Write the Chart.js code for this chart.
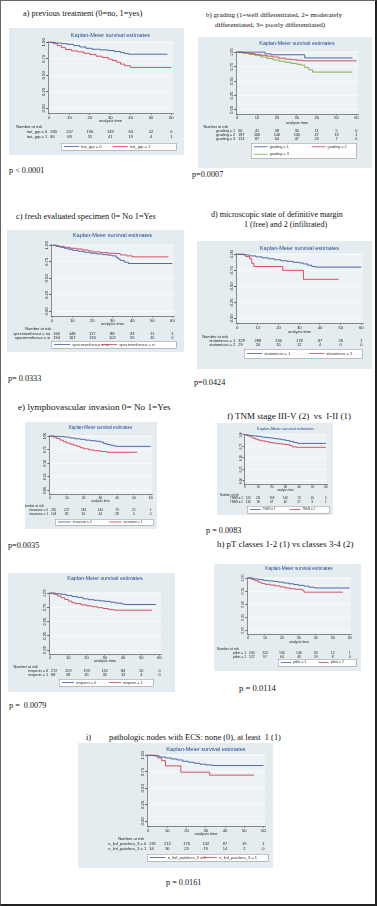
<!DOCTYPE html>
<html>
<head>
<meta charset="utf-8">
<script src="https://cdn.jsdelivr.net/npm/chart.js@4.4.0/dist/chart.umd.min.js"></script>
<style>
html, body { margin: 0; padding: 0; background: #fff; }
#page { position: relative; width: 377px; height: 906px; box-sizing: border-box; border: 1px solid #666; border-right: 2px solid #222; border-bottom: 2px solid #222; overflow: hidden; font-family: "Liberation Serif", "DejaVu Serif", serif; color: #111; }
.cap { position: absolute; white-space: pre; line-height: 10px; }
.box { position: absolute; background: #e4ecf0; }
.box canvas { display: block; }
</style>
</head>
<body>
<div id="page"></div>
<script>
// valori (tempi in mesi, sopravvivenza)
const xTicks = [0, 10, 20, 30, 40, 50, 60];
const yTicks = [0, 0.25, 0.5, 0.75, 1];

// a) trattamento precedente
const aTime0 = [0, 3, 6, 9, 12, 15, 18, 21, 25, 29, 32, 35, 37, 39, 58];
const aSurv0 = [1, .99, .98, .97, .95, .93, .91, .895, .885, .875, .86, .845, .83, .82, .82];
const aTime1 = [0, 2, 4, 6, 8, 11, 14, 17, 20, 23, 26, 29, 31, 33, 35, 37, 40, 60];
const aSurv1 = [1, .98, .95, .92, .89, .87, .855, .835, .815, .79, .77, .745, .725, .70, .67, .645, .62, .62];
const aRisk0 = [280, 247, 196, 149, 63, 22, 0];
const aRisk1 = [80, 68, 55, 41, 19, 4, 1];

// b) grading
const bTime1 = [0, 14, 17, 34, 58];
const bSurv1 = [1, .97, .955, .90, .90];
const bTime2 = [0, 3, 6, 9, 12, 15, 18, 21, 24, 27, 30, 33, 60];
const bSurv2 = [1, .99, .975, .96, .945, .93, .915, .895, .88, .87, .86, .85, .85];
const bTime3 = [0, 3, 6, 9, 12, 15, 18, 21, 24, 27, 30, 32, 34, 36, 38, 58];
const bSurv3 = [1, .98, .96, .94, .915, .89, .865, .845, .825, .805, .79, .775, .735, .695, .655, .655];
const bRisk1 = [60, 41, 38, 30, 11, 5, 0];
const bRisk2 = [187, 166, 140, 100, 47, 13, 1];
const bRisk3 = [113, 87, 60, 47, 26, 7, 0];

// c) pezzo fresco
const cTime0 = [0, 2, 4, 6, 8, 10, 13, 16, 19, 22, 25, 28, 30, 32, 33, 34, 36, 38, 60];
const cSurv0 = [1, .985, .97, .955, .94, .925, .91, .895, .88, .87, .86, .85, .84, .815, .79, .77, .745, .725, .725];
const cTime1 = [0, 3, 6, 9, 12, 15, 18, 20, 24, 28, 31, 34, 37, 40, 58];
const cSurv1 = [1, .985, .97, .955, .945, .93, .915, .90, .89, .88, .875, .855, .84, .825, .825];
const cRisk0 = [166, 148, 117, 88, 43, 11, 1];
const cRisk1 = [194, 167, 133, 102, 59, 15, 0];

// d) margine
const dTime1 = [0, 3, 6, 9, 12, 15, 18, 21, 24, 27, 30, 32, 34, 36, 38, 60];
const dSurv1 = [1, .99, .975, .96, .945, .93, .915, .90, .89, .875, .865, .85, .83, .81, .80, .80];
const dTime2 = [0, 4, 6, 7, 8, 22, 32, 49];
const dSurv2 = [1, .965, .93, .86, .81, .75, .61, .61];
const dRisk1 = [329, 288, 230, 178, 87, 26, 1];
const dRisk2 = [29, 20, 15, 12, 4, 0, 0];

// e) invasione linfovascolare
const eTime0 = [0, 3, 6, 9, 12, 15, 18, 21, 24, 27, 30, 32, 34, 36, 38, 40, 60];
const eSurv0 = [1, .995, .99, .98, .965, .95, .94, .925, .915, .905, .89, .86, .845, .83, .815, .81, .81];
const eTime1 = [0, 2, 4, 6, 8, 10, 12, 14, 16, 18, 20, 23, 26, 30, 34, 52];
const eSurv1 = [1, .98, .955, .925, .895, .87, .85, .83, .81, .785, .765, .745, .73, .715, .70, .70];
const eRisk0 = [255, 227, 181, 144, 73, 21, 1];
const eRisk1 = [104, 82, 61, 44, 28, 5, 0];

// f) TNM
const fTime1 = [0, 3, 6, 9, 12, 15, 18, 21, 24, 27, 30, 33, 36, 39, 60];
const fSurv1 = [1, .99, .98, .97, .955, .945, .935, .92, .91, .895, .88, .86, .835, .815, .815];
const fTime2 = [0, 2, 4, 6, 8, 10, 12, 15, 18, 21, 24, 27, 30, 33, 35, 38, 60];
const fSurv2 = [1, .98, .955, .93, .905, .885, .87, .855, .835, .82, .81, .80, .79, .765, .74, .73, .73];
const fRisk1 = [220, 211, 158, 140, 70, 20, 0];
const fRisk2 = [130, 96, 67, 40, 27, 8, 1];

// g) invasione perineurale
const gTime0 = [0, 3, 6, 9, 12, 15, 18, 21, 24, 27, 30, 33, 36, 39, 41, 58];
const gSurv0 = [1, .99, .98, .96, .94, .925, .90, .885, .875, .865, .855, .84, .825, .81, .80, .80];
const gTime1 = [0, 2, 4, 6, 8, 10, 12, 14, 17, 20, 23, 26, 29, 32, 35, 56];
const gSurv1 = [1, .98, .95, .92, .89, .86, .83, .815, .795, .775, .76, .745, .73, .71, .70, .70];
const gRisk0 = [272, 259, 193, 152, 84, 20, 0];
const gRisk1 = [88, 68, 45, 30, 13, 4, 0];

// h) pT
const hTime1 = [0, 3, 6, 9, 12, 15, 18, 21, 24, 27, 30, 33, 36, 39, 60];
const hSurv1 = [1, .985, .97, .955, .945, .935, .92, .905, .89, .875, .86, .845, .825, .81, .81];
const hTime2 = [0, 2, 4, 6, 8, 10, 13, 16, 19, 22, 25, 28, 32, 33, 56];
const hSurv2 = [1, .975, .95, .92, .895, .88, .865, .85, .83, .81, .795, .785, .77, .73, .73];
const hRisk1 = [240, 220, 156, 146, 63, 12, 1];
const hRisk2 = [127, 97, 64, 43, 19, 8, 0];

// i) linfonodi con ECS
const iTime0 = [0, 3, 6, 9, 12, 15, 18, 21, 24, 27, 30, 33, 60];
const iSurv0 = [1, .99, .975, .96, .945, .93, .91, .895, .88, .865, .855, .845, .845];
const iTime1 = [0, 5, 7, 9, 17, 32, 55];
const iSurv1 = [1, .96, .92, .84, .745, .70, .70];
const iRisk0 = [235, 212, 176, 132, 87, 19, 1];
const iRisk1 = [34, 30, 23, 19, 14, 2, 0];

const BLUE = '#3b5b9d', RED = '#d2404f', GREEN = '#82a23a';
const SANS = '"Liberation Sans", Arial, sans-serif';

// testi del foglio: [testo, x, y centro, dimensione]
const captions = [
  ['a) previous treatment (0=no, 1=yes)', 22, 13, 8.3],
  ['b) grading (1=well differentiated, 2= moderately', 205, 14, 7],
  ['differentiated, 3= poorly differentiated)', 214, 24, 7],
  ['p < 0.0001', 8, 170, 8.2],
  ['p=0.0007', 191, 174, 8.2],
  ['c) fresh evaluated specimen 0= No 1=Yes', 15, 216, 8.4],
  ['d) microscopic state of definitive margin', 210, 214, 8.1],
  ['1 (free) and 2 (infiltrated)', 243, 224, 8.1],
  ['p= 0.0333', 7, 378, 8.2],
  ['p=0.0424', 193, 382, 8.2],
  ['e) lymphovascular invasion 0= No 1=Yes', 17, 406, 9.2],
  ['f) TNM stage III-V (2)  vs  I-II (1)', 226, 415, 9],
  ['p=0.0035', 7, 545, 8.2],
  ['p = 0.0083', 205, 530, 8.2],
  ['h) pT classes 1-2 (1) vs classes 3-4 (2)', 216, 543, 8.9],
  ['g) perineural invasion 0= No 1=Yes', 30, 582, 8.3],
  ['p = 0.0114', 238, 687, 8.6],
  ['p =  0.0079', 8, 705, 8.2],
  ['i)', 85, 737, 8.4],
  ['pathologic nodes with ECS: none (0), at least  1 (1)', 108, 737, 8.4],
  ['p = 0.0161', 165, 882, 8.2]
];

// posizione dei riquadri (box: x, y, w, h; plot relativo al box)
const panels = [
  { box: [8, 27, 175, 127], plot: { l: 39, t: 13, r: 11, b: 85 }, f: 1, titleY: 7, atY: 92.5, narY: 99, narDx: -7, rowY: 104, rowGap: 5, leg: [52, 115, 167, 122], legC2: 0.45,
    series: [
      { label: 'trat_grp = 0', time: aTime0, surv: aSurv0, risk: aRisk0, color: BLUE },
      { label: 'trat_grp = 1', time: aTime1, surv: aSurv1, risk: aRisk1, color: RED }] },
  { box: [197, 36, 174, 131], plot: { l: 38, t: 14, r: 14, b: 77 }, f: 0.95, titleY: 7, atY: 86, narY: 90, narDx: -9, rowY: 93.5, rowGap: 4, leg: [53, 106, 158, 121], legC2: 0.58,
    series: [
      { label: 'grading = 1', time: bTime1, surv: bSurv1, risk: bRisk1, color: BLUE },
      { label: 'grading = 2', time: bTime2, surv: bSurv2, risk: bRisk2, color: RED },
      { label: 'grading = 3', time: bTime3, surv: bSurv3, risk: bRisk3, color: GREEN }] },
  { box: [6, 229, 177, 122], plot: { l: 44, t: 14, r: 10, b: 86 }, f: 1, titleY: 5, atY: 93.5, narY: 99, narDx: -1, rowY: 104, rowGap: 4.3, leg: [44, 111, 169, 118], legC2: 0.4,
    series: [
      { label: 'specimenfresco = no', time: cTime0, surv: cSurv0, risk: cRisk0, color: BLUE },
      { label: 'specimenfresco = si', time: cTime1, surv: cSurv1, risk: cRisk1, color: RED }] },
  { box: [196, 240, 175, 128], plot: { l: 39, t: 12, r: 9, b: 82 }, f: 1, titleY: 7, atY: 91, narY: 96, narDx: -9, rowY: 100, rowGap: 4, leg: [47, 108, 165, 117], legC2: 0.55,
    series: [
      { label: 'statomicos = 1', time: dTime1, surv: dSurv1, risk: dRisk1, color: BLUE },
      { label: 'statomicos = 2', time: dTime2, surv: dSurv2, risk: dRisk2, color: RED }] },
  { box: [24, 421, 132, 107], plot: { l: 24, t: 13, r: 5, b: 72 }, f: 0.8, titleY: 6, atY: 79, narY: 84, narDx: -6, rowY: 88, rowGap: 4, leg: [30, 97, 128, 103], legC2: 0.55,
    series: [
      { label: 'invasione = 0', time: eTime0, surv: eSurv0, risk: eRisk0, color: BLUE },
      { label: 'invasione = 1', time: eTime1, surv: eSurv1, risk: eRisk1, color: RED }] },
  { box: [216, 422, 116, 92], plot: { l: 27, t: 11, r: 6, b: 61 }, f: 0.72, titleY: 6, atY: 67, narY: 72, narDx: -6, rowY: 75.5, rowGap: 3.6, leg: [30, 83, 112, 90], legC2: 0.52,
    series: [
      { label: 'TNM3 = 1', time: fTime1, surv: fSurv1, risk: fRisk1, color: BLUE },
      { label: 'TNM3 = 2', time: fTime2, surv: fSurv2, risk: fRisk2, color: RED }] },
  { box: [7, 572, 167, 119], plot: { l: 41, t: 19, r: 14, b: 81 }, f: 0.95, titleY: 6, atY: 88, narY: 94, narDx: -12, rowY: 97.5, rowGap: 4, leg: [51, 106, 145, 113], legC2: 0.53,
    series: [
      { label: 'invperin = 0', time: gTime0, surv: gSurv0, risk: gRisk0, color: BLUE },
      { label: 'invperin = 1', time: gTime1, surv: gSurv1, risk: gRisk1, color: RED }] },
  { box: [213, 563, 147, 107], plot: { l: 33, t: 13, r: 10, b: 70 }, f: 0.85, titleY: 5, atY: 78, narY: 85, narDx: -9, rowY: 89, rowGap: 4, leg: [64, 95, 142, 102], legC2: 0.52,
    series: [
      { label: 'ptbin = 1', time: hTime1, surv: hSurv1, risk: hRisk1, color: BLUE },
      { label: 'ptbin = 2', time: hTime2, surv: hSurv2, risk: hRisk2, color: RED }] },
  { box: [77, 742, 195, 125], plot: { l: 69, t: 11, r: 8, b: 83 }, f: 1, titleY: 6, atY: 91, narY: 96, narDx: -4, rowY: 101, rowGap: 5, leg: [69, 111, 190, 118], legC2: 0.45,
    series: [
      { label: 'n_linf_patolecs_3 = 0', time: iTime0, surv: iSurv0, risk: iRisk0, color: BLUE },
      { label: 'n_linf_patolecs_3 = 1', time: iTime1, surv: iSurv1, risk: iRisk1, color: RED }] }
];

const page = document.getElementById('page');

captions.forEach(([txt, x, y, size]) => {
  const d = document.createElement('div');
  d.className = 'cap';
  d.textContent = txt;
  d.style.left = x + 'px';
  d.style.top = (y - 5) + 'px';
  d.style.fontSize = size + 'px';
  page.appendChild(d);
});

// disegna titolo, etichette degli assi, tabella "Number at risk" e legenda
function kmDecor(p) {
  return {
    id: 'kmDecor',
    beforeDraw(chart) {
      const { ctx, chartArea: ca } = chart;
      ctx.save();
      ctx.fillStyle = '#ecf2f5';
      ctx.fillRect(ca.left, ca.top, ca.right - ca.left, ca.bottom - ca.top);
      ctx.restore();
    },
    afterDraw(chart) {
      const { ctx, chartArea: ca, scales } = chart;
      const x = scales.x, y = scales.y, f = p.f;
      const x0 = x.getPixelForValue(0);
      ctx.save();
      ctx.textBaseline = 'middle';

      ctx.fillStyle = '#1f4a8a';
      ctx.font = (5.6 * f) + 'px ' + SANS;
      ctx.textAlign = 'center';
      ctx.fillText('Kaplan-Meier survival estimates', (ca.left + ca.right) / 2, p.titleY);

      ctx.fillStyle = '#222';
      ctx.font = (4.2 * f) + 'px ' + SANS;
      yTicks.forEach(v => {
        ctx.save();
        ctx.translate(ca.left - 4.6 * f, y.getPixelForValue(v));
        ctx.rotate(-Math.PI / 2);
        ctx.fillText(v.toFixed(2), 0, 0);
        ctx.restore();
      });
      xTicks.forEach(v => {
        ctx.fillText(String(v), x.getPixelForValue(v), ca.bottom + 4.6 * f);
      });

      ctx.font = (4 * f) + 'px ' + SANS;
      ctx.fillText('analysis time', (ca.left + ca.right) / 2, p.atY);

      ctx.textAlign = 'right';
      ctx.fillText('Number at risk', x0 + p.narDx, p.narY);
      p.series.forEach((s, i) => {
        const yy = p.rowY + i * p.rowGap;
        ctx.textAlign = 'right';
        ctx.fillText(s.label, x0 - 2, yy);
        s.risk.forEach((n, j) => {
          ctx.textAlign = j === 0 ? 'left' : 'center';
          ctx.fillText(String(n), x.getPixelForValue(xTicks[j]) + (j === 0 ? 1 : 0), yy);
        });
      });

      // legenda
      const [lx1, ly1, lx2, ly2] = p.leg;
      const lw = lx2 - lx1, rows = Math.ceil(p.series.length / 2), rh = (ly2 - ly1) / rows;
      ctx.fillStyle = '#fff';
      ctx.fillRect(lx1, ly1, lw, ly2 - ly1);
      ctx.strokeStyle = '#8a8a8a';
      ctx.lineWidth = 0.5;
      ctx.strokeRect(lx1 + 0.25, ly1 + 0.25, lw, ly2 - ly1);
      p.series.forEach((s, i) => {
        const r = Math.floor(i / 2), c = i % 2;
        const cx = lx1 + (c === 0 ? 3 : p.legC2 * lw);
        const cy = ly1 + rh * (r + 0.5);
        const len = 0.13 * lw;
        ctx.strokeStyle = s.color;
        ctx.lineWidth = 0.8;
        ctx.beginPath();
        ctx.moveTo(cx, cy);
        ctx.lineTo(cx + len, cy);
        ctx.stroke();
        ctx.fillStyle = '#333';
        ctx.textAlign = 'left';
        ctx.fillText(s.label, cx + len + 2, cy);
      });
      ctx.restore();
    }
  };
}

panels.forEach(p => {
  const [bx, by, bw, bh] = p.box;
  const box = document.createElement('div');
  box.className = 'box';
  box.style.left = bx + 'px';
  box.style.top = by + 'px';
  box.style.width = bw + 'px';
  box.style.height = bh + 'px';
  const cv = document.createElement('canvas');
  cv.width = bw;
  cv.height = bh;
  cv.style.width = bw + 'px';
  cv.style.height = bh + 'px';
  box.appendChild(cv);
  page.appendChild(box);

  const f = p.f;
  new Chart(cv, {
    type: 'line',
    data: {
      datasets: p.series.map(s => ({
        label: s.label,
        data: s.time.map((t, i) => ({ x: t, y: s.surv[i] })),
        borderColor: s.color,
        borderWidth: 0.9,
        stepped: true,
        pointRadius: 0,
        fill: false
      }))
    },
    options: {
      responsive: false,
      animation: false,
      layout: { padding: { left: p.plot.l, top: p.plot.t, right: p.plot.r, bottom: bh - p.plot.b } },
      plugins: { legend: { display: false }, title: { display: false }, tooltip: { enabled: false } },
      scales: {
        x: {
          type: 'linear', min: -0.6, max: 60.8,
          afterBuildTicks: s => { s.ticks = xTicks.map(v => ({ value: v })); },
          afterFit: s => { s.height = 0; },
          ticks: { display: false },
          grid: { drawOnChartArea: false, tickLength: 2 * f, tickColor: '#444', lineWidth: 0.5 },
          border: { color: '#444', width: 0.6 }
        },
        y: {
          min: -0.07, max: 1.02,
          afterBuildTicks: s => { s.ticks = yTicks.map(v => ({ value: v })); },
          afterFit: s => { s.width = 0; },
          ticks: { display: false },
          grid: { color: '#f9fbfc', lineWidth: 0.8, tickLength: 2 * f, tickColor: '#444' },
          border: { color: '#444', width: 0.6 }
        }
      }
    },
    plugins: [kmDecor(p)]
  });
});
</script>
</body>
</html>
